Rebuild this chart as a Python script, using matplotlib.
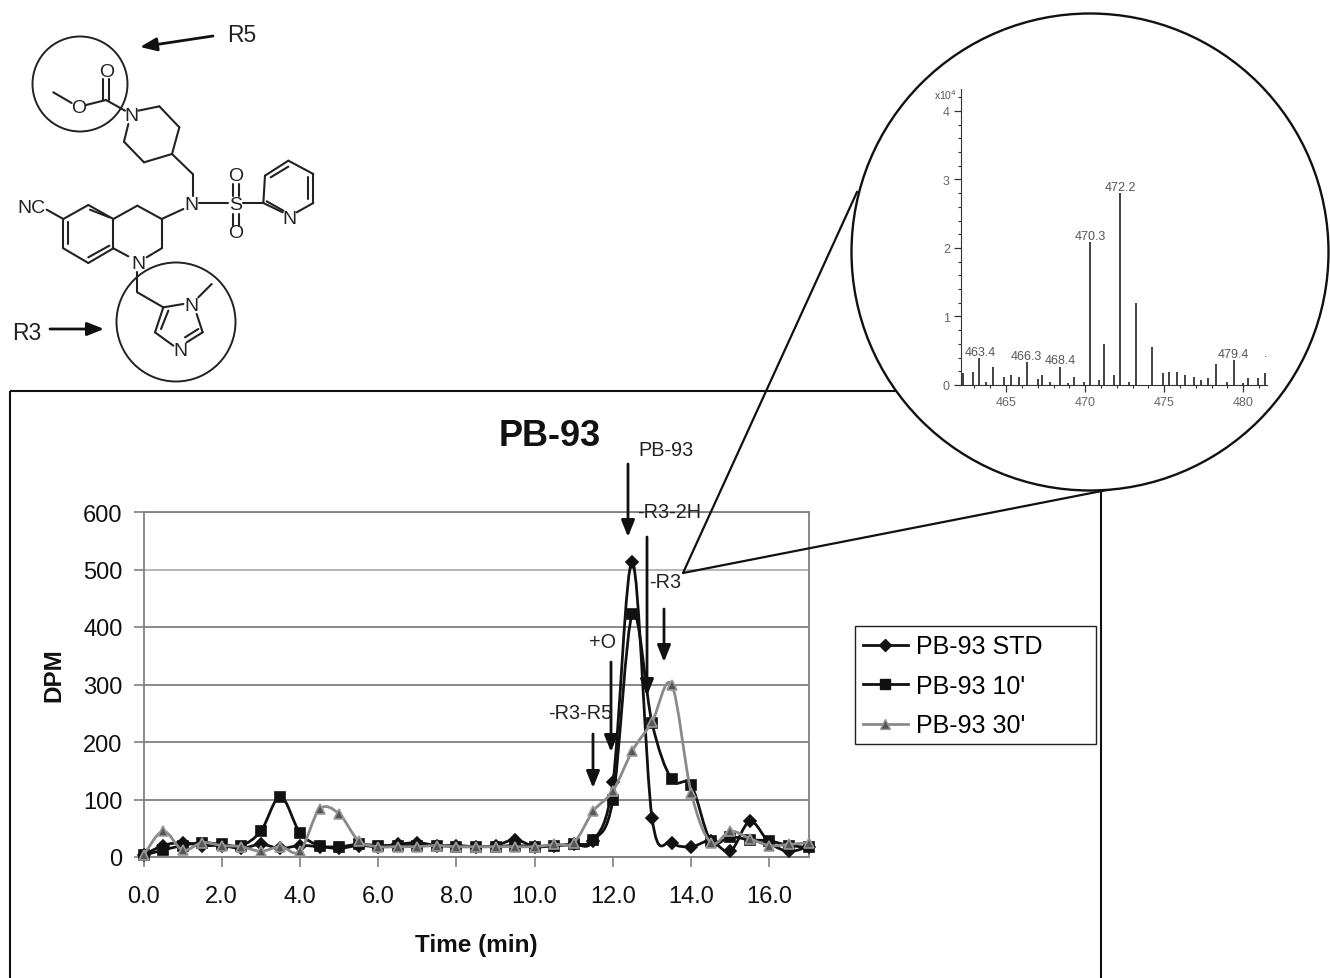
import matplotlib
matplotlib.use('Agg')
import matplotlib.pyplot as plt
from matplotlib.lines import Line2D
from matplotlib.patches import Circle, PathPatch, Rectangle
from matplotlib.path import Path
from matplotlib.ticker import MultipleLocator
from numpy import array

plt.rcParams['font.family'] = ['Liberation Sans', 'DejaVu Sans']

FIG_W = 1330
FIG_H = 979

# Chromatogram data
time_min = [0.0, 0.5, 1.0, 1.5, 2.0, 2.5, 3.0, 3.5, 4.0, 4.5, 5.0, 5.5, 6.0, 6.5, 7.0, 7.5, 8.0, 8.5,
            9.0, 9.5, 10.0, 10.5, 11.0, 11.5, 12.0, 12.5, 13.0, 13.5, 14.0, 14.5, 15.0, 15.5, 16.0, 16.5, 17.0]
dpm_std = [3, 20, 25, 20, 20, 15, 22, 15, 20, 18, 15, 20, 18, 22, 25, 20, 20, 18,
           20, 30, 18, 20, 22, 28, 130, 513, 68, 25, 18, 28, 10, 62, 25, 10, 18]
dpm_10 = [3, 12, 20, 25, 22, 20, 45, 105, 42, 20, 18, 22, 20, 20, 20, 20, 18, 18,
          18, 20, 18, 20, 22, 30, 100, 423, 233, 135, 125, 28, 35, 30, 28, 20, 17]
dpm_30 = [3, 45, 12, 25, 20, 18, 10, 18, 10, 83, 75, 28, 18, 18, 18, 20, 18, 18,
          18, 18, 18, 22, 25, 80, 115, 185, 235, 300, 112, 25, 45, 32, 20, 22, 25]
x_ticks = [0, 2, 4, 6, 8, 10, 12, 14, 16]
y_ticks = [0, 100, 200, 300, 400, 500, 600]
series_names = ['PB-93 STD', "PB-93 10'", "PB-93 30'"]

# Mass spectrum data
mz = [462.3, 462.9, 463.3, 463.7, 464.2, 464.9, 465.3, 465.8, 466.3, 467.0, 467.3, 467.8, 468.4, 468.9,
      469.3, 469.9, 470.3, 470.9, 471.2, 471.8, 472.2, 472.8, 473.2, 474.2, 474.9, 475.3, 475.8, 476.3,
      476.9, 477.3, 477.8, 478.3, 479.0, 479.4, 480.0, 480.3, 480.9, 481.4]
intensity = [0.17, 0.19, 0.40, 0.04, 0.27, 0.12, 0.15, 0.12, 0.33, 0.09, 0.14, 0.04, 0.27, 0.03,
             0.12, 0.04, 2.08, 0.08, 0.60, 0.14, 2.80, 0.04, 1.19, 0.55, 0.17, 0.19, 0.19, 0.15,
             0.12, 0.08, 0.10, 0.31, 0.04, 0.37, 0.03, 0.10, 0.10, 0.18]
peak_labels = [(463.4, 0.40, '463.4'), (466.3, 0.33, '466.3'), (468.4, 0.27, '468.4'),
               (470.3, 2.08, '470.3'), (472.2, 2.80, '472.2'), (479.4, 0.37, '479.4')]

# Structure drawing, bonds in units of 1/3 pixel
bonds = [
    ((160, 280), (215, 312)), ((258, 318), (318, 303)), ((310, 303), (310, 240)), ((326, 303), (326, 240)),
    ((318, 303), (375, 335)), ((415, 335), (478, 322)), ((478, 322), (538, 385)), ((538, 385), (516, 465)),
    ((516, 465), (432, 490)), ((432, 490), (372, 428)), ((372, 428), (385, 375)), ((516, 465), (578, 525)),
    ((578, 525), (578, 590)), ((597, 612), (685, 612)), ((730, 612), (790, 612)),
    ((700, 590), (700, 555)), ((716, 590), (716, 555)), ((700, 645), (700, 680)), ((716, 645), (716, 680)),
    ((790, 612), (795, 530)), ((795, 530), (865, 485)), ((812, 535), (865, 503)), ((865, 485), (940, 525)),
    ((940, 525), (940, 612)), ((925, 535), (925, 600)), ((940, 612), (890, 640)), ((848, 640), (790, 612)),
    ((800, 607), (850, 635)),
    ((140, 632), (190, 660)), ((190, 660), (190, 748)), ((205, 668), (205, 735)), ((190, 748), (265, 792)),
    ((265, 792), (340, 748)), ((265, 775), (328, 740)), ((340, 748), (385, 772)), ((340, 748), (340, 660)),
    ((340, 660), (265, 618)), ((328, 655), (270, 632)), ((265, 618), (190, 660)), ((340, 660), (412, 620)),
    ((412, 620), (485, 660)), ((485, 660), (550, 630)), ((485, 660), (485, 748)), ((485, 748), (440, 775)),
    ((412, 820), (412, 880)), ((412, 880), (490, 925)), ((490, 925), (550, 915)), ((595, 895), (635, 855)),
    ((490, 925), (465, 1000)), ((505, 935), (483, 990)), ((465, 1000), (520, 1040)), ((560, 1030), (608, 1000)),
    ((555, 1015), (595, 990)), ((608, 1000), (590, 945)),
]
atoms = [('O', 235, 325), ('O', 320, 218), ('N', 395, 350), ('N', 575, 615), ('S', 708, 617), ('O', 707, 530),
         ('O', 707, 702), ('N', 868, 660), ('NC', 95, 625), ('N', 415, 795), ('N', 575, 920), ('N', 540, 1055)]


def smooth_path(x, y, scale=1 / 6) -> Path:
    """Spline through all the points, the way the spreadsheet smooths its lines."""
    verts = [(x[0], y[0])]
    codes = [Path.MOVETO]
    n = len(x)
    for i in range(n - 1):
        i0 = max(i - 1, 0)
        i3 = min(i + 2, n - 1)
        verts.append((x[i] + (x[i + 1] - x[i0]) * scale, y[i] + (y[i + 1] - y[i0]) * scale))
        verts.append((x[i + 1] - (x[i3] - x[i]) * scale, y[i + 1] - (y[i3] - y[i]) * scale))
        verts.append((x[i + 1], y[i + 1]))
        codes += [Path.CURVE4] * 3
    return Path(verts, codes)


def px_axes(fig, left, top, right, bottom, **kwargs):
    return fig.add_axes([left / FIG_W, 1 - bottom / FIG_H, (right - left) / FIG_W, (bottom - top) / FIG_H], **kwargs)


def plot_series(ax, y, color, marker, size, face, edge, zorder) -> Line2D:
    ax.add_patch(PathPatch(smooth_path(time_min, y), fill=False, edgecolor=color, linewidth=2.0, zorder=zorder))
    ax.plot(time_min, y, linestyle='none', marker=marker, markersize=size, markerfacecolor=face,
            markeredgecolor=edge, markeredgewidth=1.2, zorder=zorder + 0.1, clip_on=False)
    return Line2D([0], [0], color=color, linewidth=2.0, marker=marker, markersize=size, markerfacecolor=face,
                  markeredgecolor=edge)


fig = plt.figure(figsize=(FIG_W / 100, FIG_H / 100), dpi=100, facecolor='white')

# Overlay in pixel coordinates for the frame, the structure and the callout
over = fig.add_axes([0, 0, 1, 1], facecolor='none', zorder=3)
over.set_xlim(0, FIG_W)
over.set_ylim(FIG_H, 0)
over.axis('off')

over.add_patch(Rectangle((10, 392), 1091, 620, fill=False, edgecolor='#111111', linewidth=1.5, zorder=1))
over.plot([857, 683, 1112], [193, 574, 490], color='#111111', linewidth=1.6, zorder=2)
over.add_patch(Circle((1090, 253), 238.5, facecolor='white', edgecolor='#111111', linewidth=1.7, zorder=3))
over.add_patch(Rectangle((855, 627), 241, 118, fill=False, edgecolor='#222222', linewidth=1.0))

for start, end in bonds:
    over.plot([start[0] / 3, end[0] / 3], [start[1] / 3, end[1] / 3], color='#222222', linewidth=1.5,
              solid_capstyle='round', zorder=2)
for name, ax_x, ax_y in atoms:
    over.text(ax_x / 3, ax_y / 3, name, fontsize=14, color='#222222', ha='center', va='center', zorder=3)
over.add_patch(Circle((80, 85), 47.5, fill=False, edgecolor='#222222', linewidth=1.4))
over.add_patch(Circle((176, 323), 59.5, fill=False, edgecolor='#222222', linewidth=1.4))
over.text(242, 35, 'R5', fontsize=16.5, color='#222222', ha='center', va='center')
over.text(27, 334, 'R3', fontsize=16.5, color='#222222', ha='center', va='center')

# Arrows: (label arrows on the chart and the two R group arrows)
arrow_style = dict(arrowstyle='-|>,head_width=0.4,head_length=1.0', color='#111111', linewidth=2.0,
                   shrinkA=0, shrinkB=0)
arrows = [((213, 37), (140, 48)), ((50, 330), (104, 330)), ((628, 465), (628, 538)), ((647, 538), (647, 697)),
          ((664, 610), (664, 663)), ((611, 663), (611, 753)), ((593, 735), (593, 789))]
for start, end in arrows:
    over.annotate('', xy=end, xytext=start, arrowprops=arrow_style)

over.text(550, 437, 'PB-93', fontsize=26, fontweight='bold', color='#111111', ha='center', va='center')
for label, lx, ly in [('PB-93', 666, 451), ('-R3-2H', 669, 512), ('-R3', 665, 583), ('+O', 603, 643),
                      ('-R3-R5', 580, 714)]:
    over.text(lx, ly, label, fontsize=14.3, color='#222222', ha='center', va='center')

# Chromatogram
ax = px_axes(fig, 143.5, 513, 808.5, 858, zorder=2, facecolor='white')
handles = [plot_series(ax, dpm_30, '#8a8a8a', '^', 7, '#555555', '#999999', 5),
           plot_series(ax, dpm_10, '#111111', 's', 7.5, '#111111', '#111111', 4),
           plot_series(ax, dpm_std, '#111111', 'D', 6.5, '#111111', '#111111', 3)]
ax.set_xlim(0, 17)
ax.set_ylim(0, 600)
ax.set_xticks(x_ticks, [f'{t:.1f}' for t in x_ticks])
ax.set_yticks(y_ticks)
ax.grid(axis='y', color='#808080', linewidth=1.3)
ax.get_ygridlines()[5].set_color('#b0b0b0')
ax.set_axisbelow(True)
for spine in ax.spines.values():
    spine.set_color('#808080')
    spine.set_linewidth(1.3)
ax.tick_params(axis='both', length=7, width=1.2, color='#808080', labelsize=17, labelcolor='#111111')
ax.tick_params(axis='x', pad=13)
ax.tick_params(axis='y', pad=8)
ax.set_xlabel('Time (min)', fontsize=17.5, fontweight='bold', labelpad=19, color='#111111')
ax.set_ylabel('DPM', fontsize=17.5, fontweight='bold', labelpad=13, color='#111111', y=0.53)

legend = fig.legend(handles[::-1], series_names, loc='center left',
                    bbox_to_anchor=(855 / FIG_W, 1 - 687 / FIG_H), fontsize=18, frameon=False,
                    handlelength=1.8, labelspacing=0.62, borderpad=0.3, borderaxespad=0, handletextpad=0.35)

# Mass spectrum inside the circle
inset = px_axes(fig, 961, 90, 1267, 386, zorder=4, facecolor='none')
inset.vlines(array(mz), 0, array(intensity), color='#222222', linewidth=1.2)
inset.set_xlim(462.15, 481.5)
inset.set_ylim(0, 4.32)
inset.set_xticks([465, 470, 475, 480])
inset.set_yticks([0, 1, 2, 3, 4])
inset.xaxis.set_minor_locator(MultipleLocator(1))
inset.yaxis.set_minor_locator(MultipleLocator(0.2))
inset.spines[['top', 'right']].set_visible(False)
inset.spines[['left', 'bottom']].set_color('#333333')
inset.tick_params(axis='both', which='major', length=5, width=0.9, color='#333333', labelsize=9,
                  labelcolor='#666666', pad=3)
inset.tick_params(axis='y', which='minor', length=2.5, width=0.8, color='#333333')
inset.tick_params(axis='x', which='minor', length=2.5, width=0.8, color='#333333')
for peak_x, peak_y, peak_text in peak_labels:
    inset.text(peak_x, peak_y, peak_text, fontsize=9, color='#555555', ha='center', va='bottom')
inset.text(461.9, 4.24, 'x10$^4$', fontsize=7.5, color='#555555', ha='right', va='center')
inset.text(481.4, 0.38, '.', fontsize=9, color='#555555', ha='center', va='bottom')

fig.savefig('out.png', dpi=100)
plt.close(fig)
